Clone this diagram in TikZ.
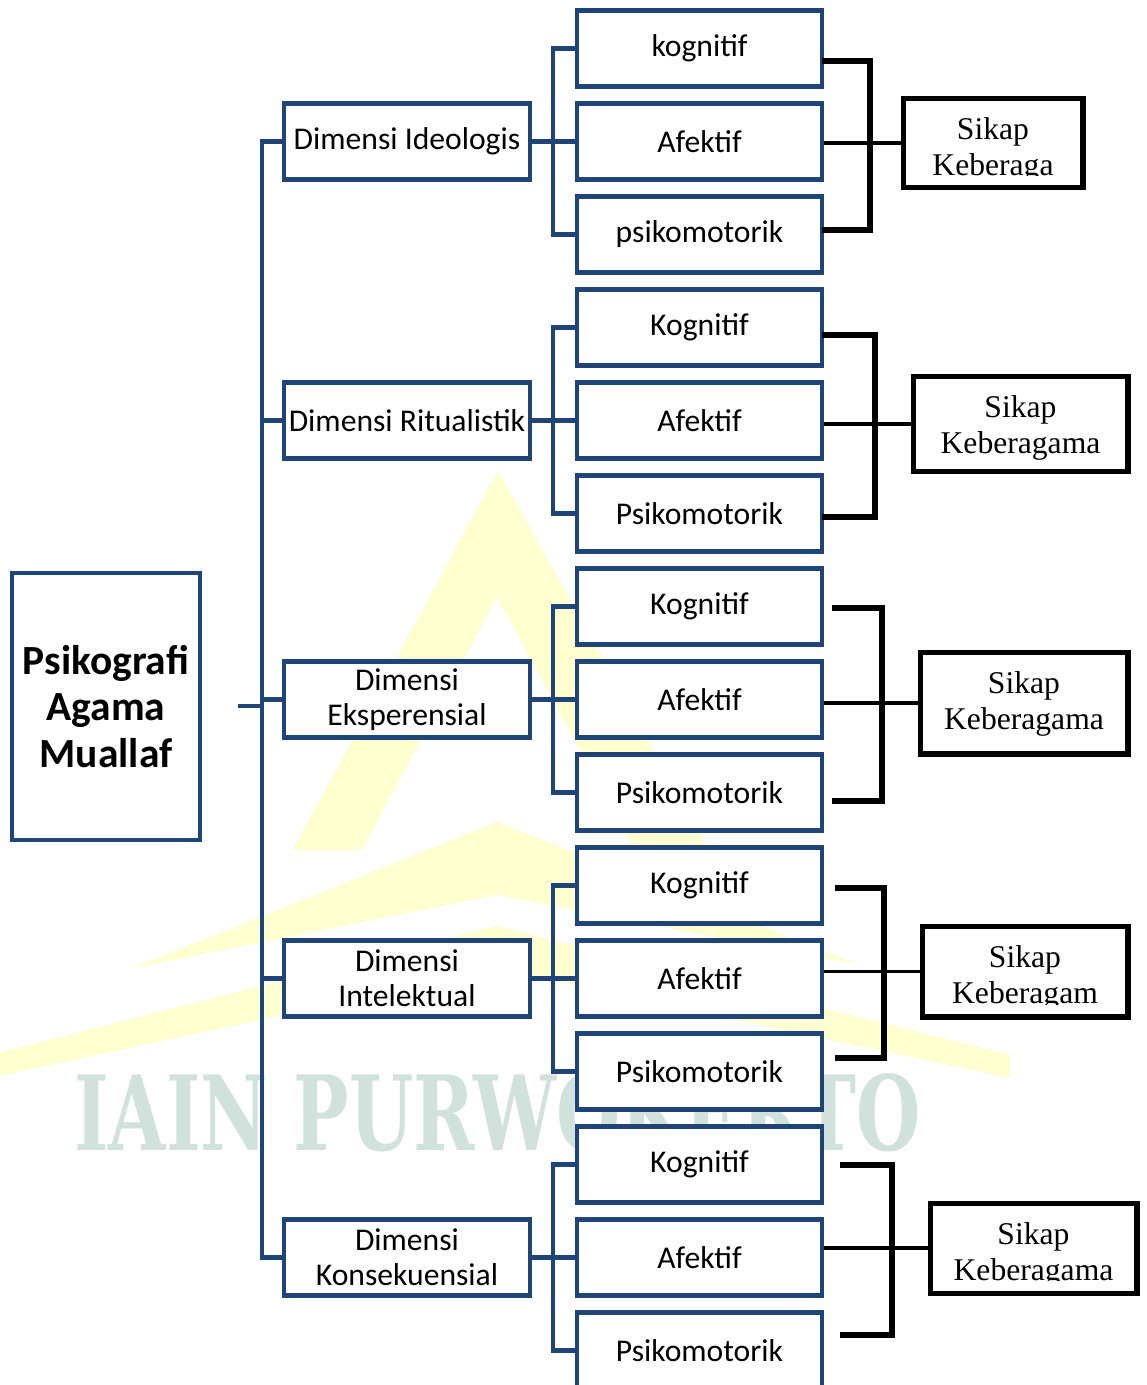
\documentclass[tikz,border=0pt]{standalone}
\usepackage{graphicx}
\usepackage{fontspec}
\setmainfont{Carlito}
\newfontfamily\serifface{Liberation Serif}
\newfontfamily\markface{DejaVu Serif}
\usetikzlibrary{calc}

\definecolor{boxblue}{RGB}{31,69,120}
\definecolor{logoyellow}{RGB}{255,255,208}
\definecolor{marktext}{RGB}{208,226,219}

\tikzset{
  bluebox/.style={draw=boxblue, line width=2.5pt, fill=white, rectangle,
    inner sep=0pt, align=center, font=\fontsize{18}{19.9}\selectfont},
  subbox/.style={bluebox, minimum width=4.9cm, minimum height=1.52cm},
  dimbox/.style={bluebox, minimum width=4.92cm, minimum height=1.52cm},
  link/.style={draw=boxblue, line width=2.3pt},
  attbox/.style={draw=black, line width=2.85pt, fill=white, rectangle, inner sep=0pt},
  atttext/.style={font=\serifface\fontsize{18}{20.4}\selectfont, inner sep=0pt, anchor=base},
  brace/.style={draw=black, line width=3.8pt},
  tie/.style={draw=black, line width=2pt},
}

\begin{document}
\begin{tikzpicture}[x=0.02cm, y=-0.02cm]
\path[use as bounding box] (0,0) rectangle (1146,1385);
\clip (0,0) rectangle (1146,1385);

% faint logo watermark behind the chart
\fill[logoyellow] (498,470) -- (726,880) -- (650,880) -- (497,597) -- (362,850) -- (293,850) -- cycle;
\fill[logoyellow] (497,822) -- (860,965) -- (497,895) -- (133,968) -- cycle;
\fill[logoyellow] (497,926) -- (1010,1055) -- (1010,1078) -- (497,969) -- (-10,1078) -- (-10,1055) -- cycle;
\node[anchor=base west, inner sep=0pt, text=marktext] (mark) at (74,1150)
  {\resizebox{16.92cm}{1.54cm}{\markface\bfseries IAIN PURWOKERTO}};

% root
\node[bluebox, minimum width=3.76cm, minimum height=5.34cm,
      font=\bfseries\fontsize{23.6}{26.4}\selectfont] (root) at (106,706.5)
  {Psikografi\\Agama\\Muallaf};

% dimensions
\node[dimbox] (d1) at (407,141.5) {Dimensi Ideologis};
\node[dimbox] (d2) at (407,420.5) {Dimensi Ritualistik};
\node[dimbox] (d3) at (407,699.5) {Dimensi\\Eksperensial};
\node[dimbox] (d4) at (407,978.5) {Dimensi\\Intelektual};
\node[dimbox] (d5) at (407,1257.5) {Dimensi\\Konsekuensial};

% aspects
\node[subbox] (k1) at (699.5,48.5)  {kognitif};
\node[subbox] (a1) at (699.5,141.5) {Afektif};
\node[subbox] (p1) at (699.5,234.5) {psikomotorik};
\node[subbox] (k2) at (699.5,327.5) {Kognitif};
\node[subbox] (a2) at (699.5,420.5) {Afektif};
\node[subbox] (p2) at (699.5,513.5) {Psikomotorik};
\node[subbox] (k3) at (699.5,606.5) {Kognitif};
\node[subbox] (a3) at (699.5,699.5) {Afektif};
\node[subbox] (p3) at (699.5,792.5) {Psikomotorik};
\node[subbox] (k4) at (699.5,885.5) {Kognitif};
\node[subbox] (a4) at (699.5,978.5) {Afektif};
\node[subbox] (p4) at (699.5,1071.5) {Psikomotorik};
\node[subbox] (k5) at (699.5,1164.5) {Kognitif};
\node[subbox] (a5) at (699.5,1257.5) {Afektif};
\node[subbox] (p5) at (699.5,1350.5) {Psikomotorik};

% blue tree connectors
\coordinate (stub) at (238,706);
\coordinate (trunk) at (262,706);
\coordinate (spine) at (553,0);
\draw[link] (stub) -- (trunk);
\draw[link] (d1.west) -| (trunk) |- (d5.west);
\foreach \d in {d2,d3,d4} \draw[link] (\d.west) -- (\d.west -| trunk);
\foreach \g in {1,...,5} {
  \draw[link] (d\g.east) -- (d\g.east -| spine);
  \draw[link] (k\g.west) -- (k\g.west -| spine) -- (p\g.west -| spine) -- (p\g.west);
  \draw[link] (a\g.west) -- (a\g.west -| spine);
}

% attitude boxes
\node[attbox, minimum width=3.6cm,  minimum height=1.8cm]  (s1) at (993,143) {};
\node[attbox, minimum width=4.3cm,  minimum height=1.92cm] (s2) at (1020.5,424) {};
\node[attbox, minimum width=4.16cm, minimum height=2.04cm] (s3) at (1024,703) {};
\node[attbox, minimum width=4.12cm, minimum height=1.82cm] (s4) at (1025,971.5) {};
\node[attbox, minimum width=4.14cm, minimum height=1.8cm]  (s5) at (1033.5,1248) {};

\begin{scope}
  \clip (907,102) rectangle (1079,176);
  \node[atttext] (t1a) at (993,140) {Sikap};
  \node[atttext] (t1b) at (993,176) {Keberaga};
\end{scope}
\begin{scope}
  \clip (917,380) rectangle (1124,468);
  \node[atttext] (t2a) at (1020.5,417) {Sikap};
  \node[atttext] (t2b) at (1020.5,453) {Keberagama};
\end{scope}
\begin{scope}
  \clip (924,656) rectangle (1124,750);
  \node[atttext] (t3a) at (1024,693) {Sikap};
  \node[atttext] (t3b) at (1024,729) {Keberagama};
\end{scope}
\begin{scope}
  \clip (926,930) rectangle (1124,1004);
  \node[atttext] (t4a) at (1025,967) {Sikap};
  \node[atttext] (t4b) at (1025,1003) {Keberagam};
\end{scope}
\begin{scope}
  \clip (934,1207) rectangle (1133,1280);
  \node[atttext] (t5a) at (1033.5,1244) {Sikap};
  \node[atttext] (t5b) at (1033.5,1280) {Keberagama};
\end{scope}

% black brackets gathering each group into its attitude box
\foreach \g/\xs/\yt/\xv/\yb in {1/822/61/870/230, 2/822/335/875/517,
    3/832/608/882/801, 4/835/888/884/1058, 5/840/1165/892/1335} {
  \coordinate (bt\g) at (\xs,\yt);
  \coordinate (bv\g) at (\xv,\yt);
  \coordinate (bb\g) at (\xs,\yb);
  \draw[brace] (bt\g) -- (bv\g) -- (bv\g |- bb\g) -- (bb\g);
  \draw[tie] (s\g.west -| a\g.east) -- (s\g.west);
}
\end{tikzpicture}
\end{document}
